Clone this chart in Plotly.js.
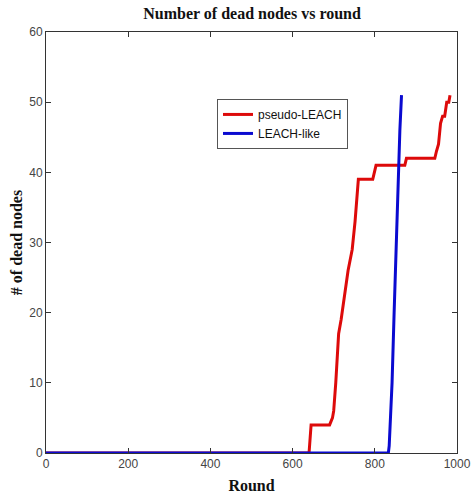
<!DOCTYPE html>
<html>
<head>
<meta charset="utf-8">
<script src="https://cdn.plot.ly/plotly-3.0.1.min.js"></script>
<style>html,body{margin:0;padding:0;background:#fff;}#chart{width:472px;height:501px;}</style>
</head>
<body>
<div id="chart"></div>
<script>
const pseudoRounds = [0, 640, 645, 690, 697, 700, 705, 712, 718, 725, 735, 745, 752, 760, 795, 803, 873, 877, 946, 950, 955, 960, 965, 970, 975, 980, 983];
const pseudoDead   = [0, 0,   4,   4,   5,   6,   10,  17,  19,  22,  26,  29,  33,  39,  39,  41,  41,  42,  42,  43,  44,  47,  48,  48,  50,  50,  51];
const leachRounds  = [0, 833, 835, 842, 847, 852, 857, 861, 865];
const leachDead    = [0, 0,   1,   10,  20,  30,  41,  46,  51];

const traces = [
  {x: pseudoRounds, y: pseudoDead, mode: 'lines', name: 'pseudo-LEACH',
   line: {color: '#dd0a0a', width: 3}},
  {x: leachRounds, y: leachDead, mode: 'lines', name: 'LEACH-like',
   line: {color: '#0a0ad0', width: 3}}
];

const axisCommon = {
  showgrid: false, zeroline: false, showline: true, mirror: 'ticks',
  linecolor: '#333', linewidth: 1, ticks: 'inside', ticklen: 5, tickcolor: '#333',
  tickfont: {family: 'Liberation Sans, Arial, sans-serif', size: 12, color: '#444'}
};

const titleFont = {family: 'Liberation Serif, serif', size: 16, color: '#111'};

const layout = {
  width: 472, height: 501,
  margin: {l: 46, r: 15, t: 32, b: 48},
  paper_bgcolor: '#fff', plot_bgcolor: '#fff',
  showlegend: true,
  title: {text: '<b>Number of dead nodes vs round</b>', x: 0.534, xanchor: 'center', y: 0.973, yanchor: 'middle',
          font: titleFont},
  xaxis: Object.assign({}, axisCommon, {range: [0, 1000], dtick: 200, tick0: 0,
          title: {text: '<b>Round</b>', standoff: 9, font: titleFont}}),
  yaxis: Object.assign({}, axisCommon, {range: [0, 60], dtick: 10, tick0: 0,
          title: {text: '<b># of dead nodes</b>', standoff: 2, font: titleFont}}),
  legend: {x: 0.416, y: 0.841, xanchor: 'left', yanchor: 'top', bgcolor: '#fff',
           bordercolor: '#555', borderwidth: 1, tracegroupgap: 0,
           font: {family: 'Liberation Sans, Arial, sans-serif', size: 12, color: '#111'}}
};

Plotly.newPlot('chart', traces, layout, {displayModeBar: false, staticPlot: true});
</script>
</body>
</html>
